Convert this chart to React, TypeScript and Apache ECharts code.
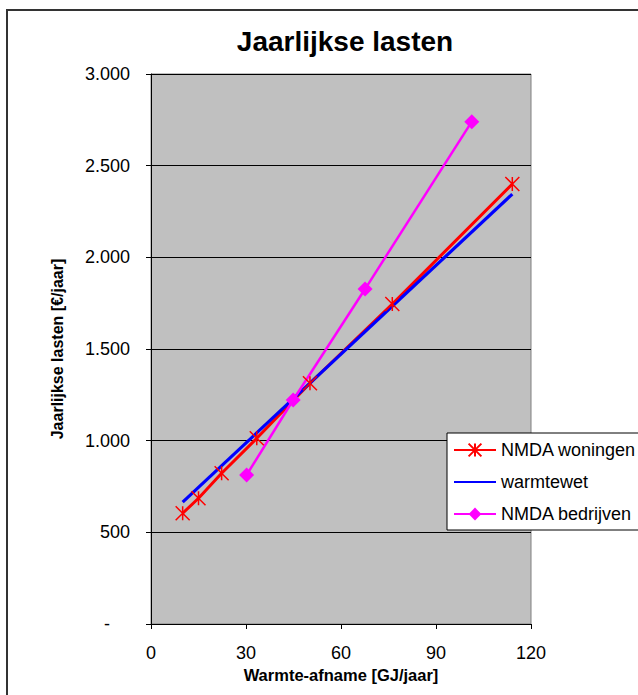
import React, { useEffect, useRef } from "react";
import * as echarts from "echarts";

const titleText = "Jaarlijkse lasten";
const xAxisName = "Warmte-afname [GJ/jaar]";
const yAxisName = "Jaarlijkse lasten [€/jaar]";

const woningenName = "NMDA woningen";
const woningenX = [10, 15, 22.3, 33.4, 50.2, 76.2, 114.1];
const woningenY = [604, 686, 822, 1013, 1313, 1745, 2400];

const warmtewetName = "warmtewet";
const warmtewetX = [10, 114.1];
const warmtewetY = [665, 2345];

const bedrijvenName = "NMDA bedrijven";
const bedrijvenX = [30.2, 44.9, 67.6, 101.3];
const bedrijvenY = [813, 1222, 1827, 2740];

const FONT = 'Arial, "Liberation Sans", sans-serif';

function pairs(xs: number[], ys: number[]) {
  return xs.map((x, i) => [x, ys[i]]);
}

function fmtY(v: number) {
  if (v === 0) return "{d|-}";
  return String(v).replace(/\B(?=(\d{3})+(?!\d))/g, ".");
}

export default function App() {
  const ref = useRef<HTMLDivElement>(null);
  useEffect(() => {
    if (!ref.current) return;
    const chart = echarts.init(ref.current, null, { renderer: "svg" });
    chart.setOption({
      animation: false,
      backgroundColor: "#ffffff",
      title: {
        text: titleText,
        left: 345,
        top: 27,
        padding: 0,
        textAlign: "center",
        textStyle: { fontFamily: FONT, fontSize: 28, fontWeight: "bold", color: "#000" },
      },
      graphic: [
        {
          type: "rect",
          shape: { x: 7, y: 10, width: 700, height: 720 },
          style: { fill: "none", stroke: "#333", lineWidth: 2 },
          silent: true,
        },
      ],
      grid: {
        left: 151,
        top: 74,
        right: 107,
        bottom: 71,
        show: true,
        backgroundColor: "#C0C0C0",
        borderColor: "#808080",
        borderWidth: 1,
      },
      legend: {
        orient: "vertical",
        left: 447,
        top: 433,
        padding: [8, 8, 7, 6],
        itemWidth: 42,
        itemHeight: 16,
        itemGap: 14,
        backgroundColor: "#fff",
        borderColor: "#000",
        borderWidth: 1,
        borderRadius: 0,
        textStyle: { fontFamily: FONT, fontSize: 18, color: "#000" },
        data: [woningenName, warmtewetName, bedrijvenName],
      },
      xAxis: {
        type: "value",
        min: 0,
        max: 120,
        interval: 30,
        name: xAxisName,
        nameLocation: "middle",
        nameGap: 37,
        nameTextStyle: { fontFamily: FONT, fontSize: 16.5, fontWeight: "bold", color: "#000" },
        axisLine: { show: true, lineStyle: { color: "#000", width: 1 } },
        axisTick: { show: true, length: 5, lineStyle: { color: "#000" } },
        axisLabel: { margin: 20, fontFamily: FONT, fontSize: 18, color: "#000" },
        splitLine: { show: false },
      },
      yAxis: {
        type: "value",
        min: 0,
        max: 3000,
        interval: 500,
        name: yAxisName,
        nameLocation: "middle",
        nameGap: 86,
        nameTextStyle: { fontFamily: FONT, fontSize: 16, fontWeight: "bold", color: "#000" },
        axisLine: { show: true, lineStyle: { color: "#000", width: 1 } },
        axisTick: { show: true, length: 5, lineStyle: { color: "#000" } },
        axisLabel: {
          margin: 21,
          fontFamily: FONT,
          fontSize: 18,
          color: "#000",
          formatter: fmtY,
          rich: { d: { width: 26, align: "left", fontFamily: FONT, fontSize: 18, color: "#000" } },
        },
        splitLine: { show: true, lineStyle: { color: "#000", width: 1 } },
      },
      series: [
        {
          name: woningenName,
          type: "line",
          data: pairs(woningenX, woningenY),
          symbol: "path://M0,0L10,10M10,0L0,10M5,0L5,10",
          symbolSize: 14,
          showSymbol: true,
          lineStyle: { color: "#FF0000", width: 3 },
          itemStyle: { color: "#FF0000", borderColor: "#FF0000", borderWidth: 1.5 },
          emphasis: { disabled: true },
        },
        {
          name: warmtewetName,
          type: "line",
          data: pairs(warmtewetX, warmtewetY),
          symbol: "path://M0,0L1,1",
          showSymbol: false,
          lineStyle: { color: "#0000FF", width: 3.2 },
          itemStyle: { color: "#0000FF", borderWidth: 0 },
          emphasis: { disabled: true },
        },
        {
          name: bedrijvenName,
          type: "line",
          data: pairs(bedrijvenX, bedrijvenY),
          symbol: "diamond",
          symbolSize: 15,
          lineStyle: { color: "#FF00FF", width: 2.5 },
          itemStyle: { color: "#FF00FF" },
          emphasis: { disabled: true },
        },
      ],
    });
    return () => chart.dispose();
  }, []);
  return (
    <div
      ref={ref}
      style={{ position: "absolute", left: 0, top: 0, width: 638, height: 695 }}
    />
  );
}
